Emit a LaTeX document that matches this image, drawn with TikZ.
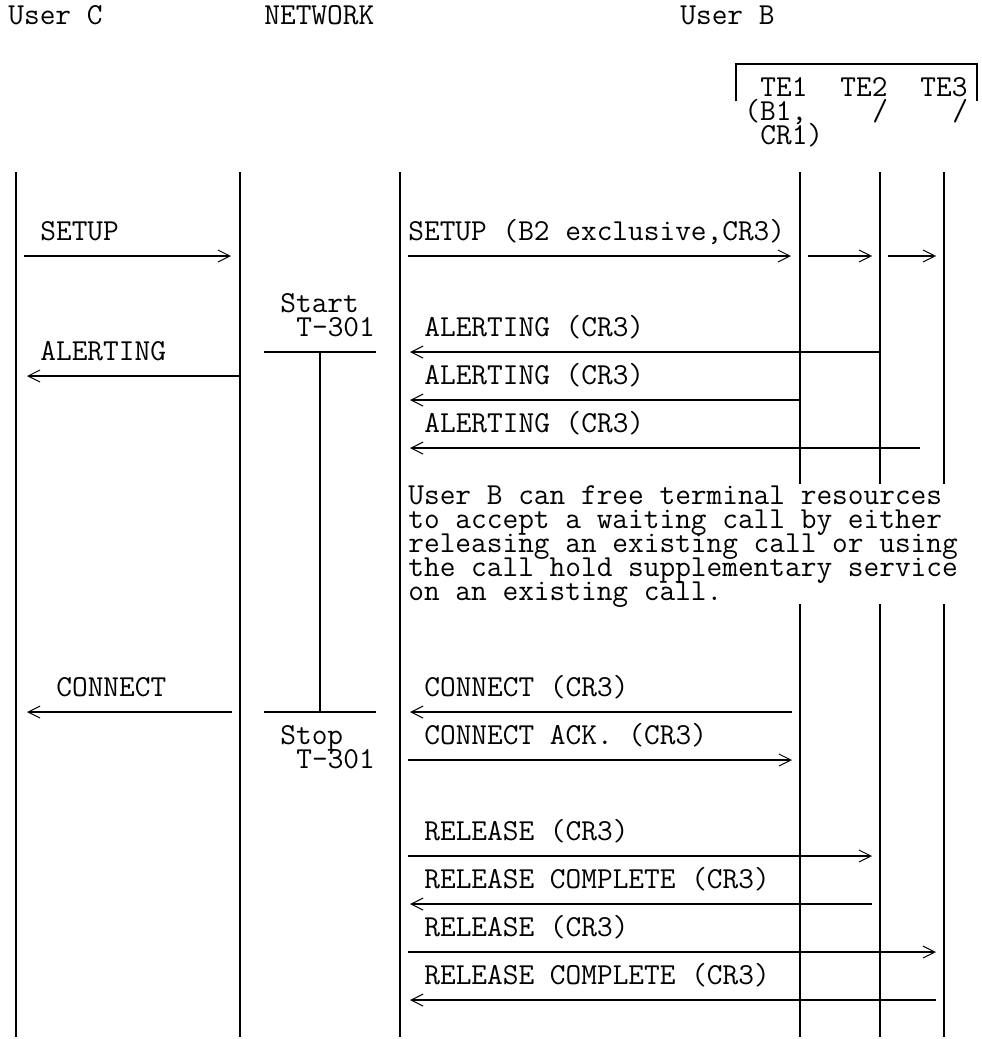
\documentclass[tikz,border=0pt]{standalone}
\usepackage{fontspec}
\usetikzlibrary{arrows.meta}

\begin{document}
\begin{tikzpicture}[
        x=0.5pt, y=-0.5pt,
        lbl/.style={anchor=base west, inner sep=0pt,
                    font=\ttfamily\fontsize{15.24pt}{12pt}\selectfont},
        life/.style={line width=1pt},
        msg/.style={line width=0.85pt,
                    -{Straight Barb[length=6pt,width=6pt,line width=0.5pt]}},
        tmr/.style={line width=0.85pt}
    ]
    \useasboundingbox (0,0) rectangle (981,1039);

    % parties
    \node[lbl] (hdC) at (8,24)   {User C};
    \node[lbl] (hdN) at (264,24) {NETWORK};
    \node[lbl] (hdB) at (680,24) {User B};

    % terminals of user B
    \node[lbl] (teA) at (760,96) {TE1};
    \node[lbl] (teB) at (840,96) {TE2};
    \node[lbl] (teC) at (920,96) {TE3};
    \node[lbl] (teAi) at (744,120) {(B1,};
    \node[lbl] (teBi) at (872,120) {/};
    \node[lbl] (teCi) at (952,120) {/};
    \node[lbl] (teAii) at (760,144) {CR1)};
    \coordinate (brkL) at (736,101);
    \coordinate (brkR) at (977,101);
    \draw[tmr] (brkL) -- ++(0,-37) -| (brkR);

    % lifelines
    \coordinate (uC)  at (16,172);
    \coordinate (nwL) at (240,172);
    \coordinate (nwR) at (400,172);
    \coordinate (te1) at (800,172);
    \coordinate (te2) at (880,172);
    \coordinate (te3) at (944,172);
    \coordinate (bot)  at (0,1037);
    \coordinate (gapT) at (0,484);
    \coordinate (gapB) at (0,604);
    \foreach \l in {uC,nwL,nwR}
        \draw[life] (\l) -- (\l |- bot);
    \foreach \l in {te1,te2,te3}{
        \draw[life] (\l) -- (\l |- gapT);
        \draw[life] (\l |- gapB) -- (\l |- bot);
    }

    % SETUP
    \node[lbl] (suC) at (40,240)  {SETUP};
    \node[lbl] (suB) at (408,240) {SETUP (B2 exclusive,CR3)};
    \coordinate (suC0) at (24,256);  \coordinate (suC1) at (231,256);
    \coordinate (suB0) at (408,256); \coordinate (suB1) at (791,256);
    \coordinate (suT0) at (808,256); \coordinate (suT1) at (872,256);
    \coordinate (suU0) at (888,256); \coordinate (suU1) at (936,256);
    \draw[msg] (suC0) -- (suC1);
    \draw[msg] (suB0) -- (suB1);
    \draw[msg] (suT0) -- (suT1);
    \draw[msg] (suU0) -- (suU1);

    % timer T-301
    \node[lbl] (tStart) at (280,312) {Start};
    \node[lbl] (tStartN) at (296,336) {T-301};
    \node[lbl] (tStop) at (280,744) {Stop};
    \node[lbl] (tStopN) at (296,768) {T-301};
    \coordinate (tA0) at (264,352); \coordinate (tA1) at (376,352);
    \coordinate (tB0) at (264,712); \coordinate (tB1) at (376,712);
    \coordinate (tM0) at (320,352); \coordinate (tM1) at (320,712);
    \draw[tmr] (tA0) -- (tA1);
    \draw[tmr] (tB0) -- (tB1);
    \draw[tmr] (tM0) -- (tM1);

    % ALERTING
    \node[lbl] (alB1) at (424,336) {ALERTING (CR3)};
    \node[lbl] (alC)  at (40,360)  {ALERTING};
    \node[lbl] (alB2) at (424,384) {ALERTING (CR3)};
    \node[lbl] (alB3) at (424,432) {ALERTING (CR3)};
    \coordinate (alB1e) at (410,352);
    \coordinate (alCe)  at (27,376);
    \coordinate (alB2e) at (410,400);
    \coordinate (alB3s) at (920,448); \coordinate (alB3e) at (410,448);
    \draw[msg] (te2 |- alB1e) -- (alB1e);
    \draw[msg] (nwL |- alCe) -- (alCe);
    \draw[msg] (te1 |- alB2e) -- (alB2e);
    \draw[msg] (alB3s) -- (alB3e);

    % note
    \foreach \txt [count=\i from 0] in {User B can free terminal resources,
                                         to accept a waiting call by either,
                                         releasing an existing call or using,
                                         the call hold supplementary service,
                                         on an existing call.}
        \node[lbl] (note\i) at (408,504+24*\i) {\txt};

    % CONNECT
    \node[lbl] (cnC) at (56,696)  {CONNECT};
    \node[lbl] (cnB) at (424,696) {CONNECT (CR3)};
    \node[lbl] (caB) at (424,744) {CONNECT ACK. (CR3)};
    \coordinate (cnC0) at (232,712); \coordinate (cnC1) at (27,712);
    \coordinate (cnB0) at (792,712); \coordinate (cnB1) at (410,712);
    \coordinate (caB0) at (408,760); \coordinate (caB1) at (792,760);
    \draw[msg] (cnC0) -- (cnC1);
    \draw[msg] (cnB0) -- (cnB1);
    \draw[msg] (caB0) -- (caB1);

    % RELEASE
    \node[lbl] (rlA) at (424,840) {RELEASE (CR3)};
    \node[lbl] (rcA) at (424,888) {RELEASE COMPLETE (CR3)};
    \node[lbl] (rlB) at (424,936) {RELEASE (CR3)};
    \node[lbl] (rcB) at (424,984) {RELEASE COMPLETE (CR3)};
    \coordinate (rlA0) at (408,856);  \coordinate (rlA1) at (872,856);
    \coordinate (rcA0) at (872,904);  \coordinate (rcA1) at (410,904);
    \coordinate (rlB0) at (408,952);  \coordinate (rlB1) at (936,952);
    \coordinate (rcB0) at (936,1000); \coordinate (rcB1) at (410,1000);
    \draw[msg] (rlA0) -- (rlA1);
    \draw[msg] (rcA0) -- (rcA1);
    \draw[msg] (rlB0) -- (rlB1);
    \draw[msg] (rcB0) -- (rcB1);
\end{tikzpicture}
\end{document}
